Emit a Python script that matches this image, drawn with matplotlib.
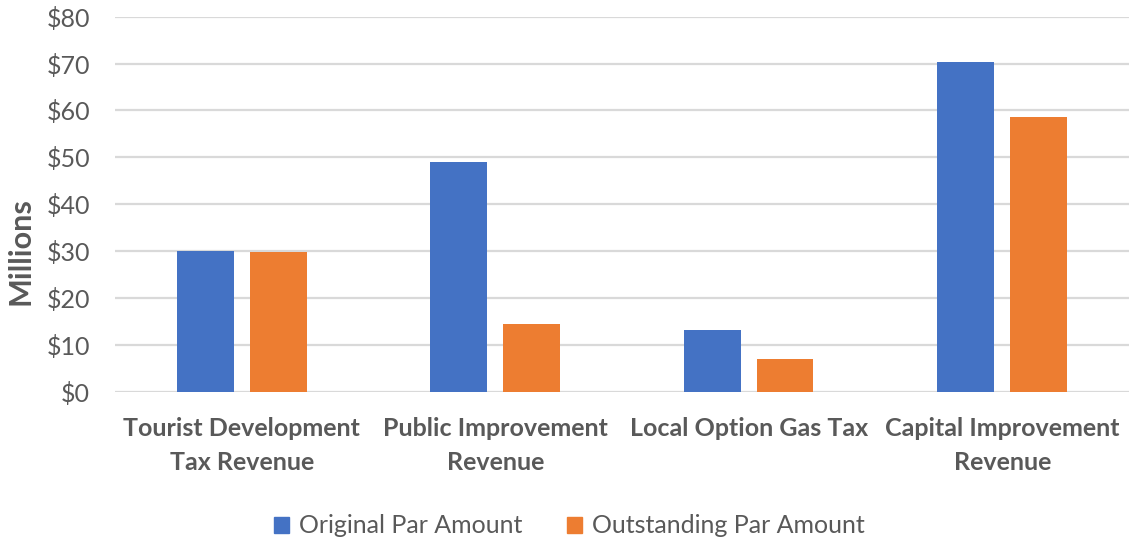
import numpy as np
import matplotlib
matplotlib.use("Agg")
import matplotlib.pyplot as plt
from matplotlib.patches import Patch

categories = [
    "Tourist Development\nTax Revenue",
    "Public Improvement\nRevenue",
    "Local Option Gas Tax",
    "Capital Improvement\nRevenue",
]
original_par = [30.0, 49.1, 13.2, 70.3]
outstanding_par = [29.7, 14.4, 7.0, 58.5]
series_names = ["Original Par Amount", "Outstanding Par Amount"]
y_ticks = [0, 10, 20, 30, 40, 50, 60, 70, 80]

BLUE = "#4472C4"
ORANGE = "#ED7D31"
GRID = "#D9D9D9"
TEXT = "#595959"

plt.rcParams["font.family"] = ["Lato", "DejaVu Sans"]

fig = plt.figure(figsize=(11.32, 5.45), dpi=100)
ax = fig.add_axes((0.1016, 0.2813, 0.8957, 0.6881))

x = np.arange(len(categories))
width = 0.224
offset = 0.1435
ax.bar(x - offset, original_par, width, color=BLUE, zorder=3)
ax.bar(x + offset, outstanding_par, width, color=ORANGE, zorder=3)

ax.set_xlim(-0.5, len(categories) - 0.5)
ax.set_ylim(0, 80)
ax.set_yticks(y_ticks)
ax.set_yticklabels([f"${v}" for v in y_ticks])
ax.set_xticks(x)
ax.set_xticklabels(categories, fontweight="bold", linespacing=1.6)

ax.grid(axis="y", color=GRID, linewidth=1.6, zorder=0)
for side in ["top", "right", "left", "bottom"]:
    ax.spines[side].set_visible(False)
ax.tick_params(axis="both", length=0, colors=TEXT)
ax.tick_params(axis="y", labelsize=18, pad=18)
ax.tick_params(axis="x", labelsize=18, pad=18)

# Excel puts the axis title a bit below the middle
ax.set_ylabel("Millions", fontsize=22, fontweight="bold", color=TEXT)
ax.yaxis.set_label_coords(-0.079, 0.375)

handles = [Patch(color=BLUE), Patch(color=ORANGE)]
fig.legend(handles, series_names, loc="center", bbox_to_anchor=(0.503, 0.035),
           ncol=2, frameon=False, fontsize=18, labelcolor=TEXT,
           handlelength=0.6, handleheight=0.6, handletextpad=0.4, columnspacing=1.75)

fig.savefig("out.png", dpi=100)
